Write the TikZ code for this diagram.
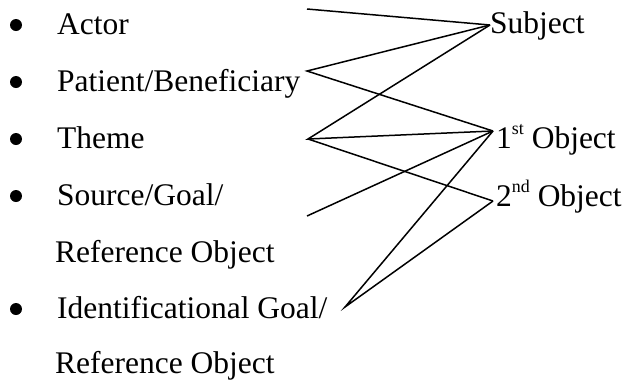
\documentclass[tikz,border=0pt]{standalone}
\usepackage{fontspec}
\setmainfont{Liberation Serif}
\usetikzlibrary{positioning}
\newcommand{\ord}[2]{#1\raisebox{0.42em}{\fontsize{18}{18}\selectfont #2}}
\tikzset{
  role/.style={anchor=base west, inner sep=0pt, font=\fontsize{31.6}{38}\selectfont},
  gf/.style={anchor=base west, inner sep=0pt, font=\fontsize{31.6}{38}\selectfont},
  bul/.style={circle, fill=black, inner sep=0pt, minimum size=12bp},
  ln/.style={line width=1.5bp, line join=miter},
}
\begin{document}
\begin{tikzpicture}[x=1bp, y=-1bp]
    \useasboundingbox (0,0) rectangle (630,380);
    % semantic roles
    \node[bul] (b1) at (16,25) {};
    \node[bul] (b2) at (16,82) {};
    \node[bul] (b3) at (16,139) {};
    \node[bul] (b4) at (16,196) {};
    \node[bul] (b5) at (16,309) {};
    \node[role] (actor) at (57,34) {Actor};
    \node[role] (pat) at (57,91) {Patient/Beneficiary};
    \node[role] (theme) at (57,148) {Theme};
    \node[role] (src) at (57,205) {Source/Goal/};
    \node[role] (srcref) at (55,262) {Reference Object};
    \node[role] (ident) at (57,318) {Identificational Goal/};
    \node[role] (idref) at (55,373) {Reference Object};
    % grammatical functions
    \node[gf] (subj) at (490,33) {Subject};
    \node[gf, inner xsep=3bp] (fst) at (493,148) {\ord{1}{st} Object};
    \node[gf, inner xsep=3bp] (snd) at (493,206) {\ord{2}{nd} Object};
    % line ends
    \coordinate (actorend) at (307,9);
    \coordinate (patpt) at (307,71);
    \coordinate (themept) at (308,139);
    \coordinate (srcend) at (307,216);
    \coordinate (idpt) at (345,307);
    \coordinate (s) at ([yshift=8bp]subj.base west);
    \coordinate (o1) at ([yshift=17bp]fst.base west);
    \coordinate (o2) at ([yshift=5bp]snd.base west);
    \draw[ln] (actorend) -- (s);
    \draw[ln] (s) -- (patpt) -- (o1);
    \draw[ln] (s) -- (themept) -- (o1);
    \draw[ln] (themept) -- (o2);
    \draw[ln] (srcend) -- (o1);
    \draw[ln] (o1) -- (idpt) -- (o2);
\end{tikzpicture}
\end{document}
